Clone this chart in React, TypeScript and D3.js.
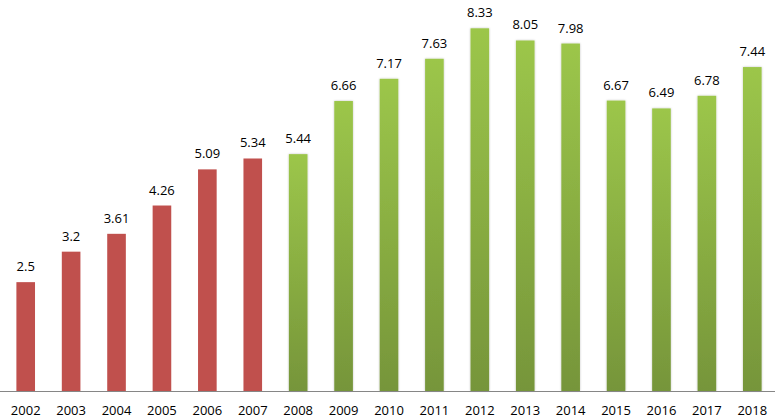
import React from "react";
import * as d3 from "d3";

const years = ["2002","2003","2004","2005","2006","2007","2008","2009","2010","2011","2012","2013","2014","2015","2016","2017","2018"];
const values = [2.5, 3.2, 3.61, 4.26, 5.09, 5.34, 5.44, 6.66, 7.17, 7.63, 8.33, 8.05, 7.98, 6.67, 6.49, 6.78, 7.44];
const redYears = ["2002","2003","2004","2005","2006","2007"];

const W = 778;
const H = 420;
const baseY = 391;

export default function App() {
  const x = d3.scaleBand<string>().domain(years).range([3, 775]).paddingInner(0.59).paddingOuter(0.295);
  const y = d3.scaleLinear().domain([0, 8.33]).range([baseY, 28.3]);
  const font = "'Open Sans', 'Noto Sans', sans-serif";
  return (
    <svg width={W} height={H} style={{ position: "absolute", left: 0, top: 0 }}>
      <defs>
        <linearGradient id="green" x1="0" y1="0" x2="0" y2="1">
          <stop offset="0%" stopColor="#9cc64a" />
          <stop offset="100%" stopColor="#76953a" />
        </linearGradient>
        <filter id="shadow" x="-30%" y="-5%" width="160%" height="110%">
          <feGaussianBlur in="SourceAlpha" stdDeviation="1.2" />
          <feOffset dx="0" dy="0" result="b" />
          <feComponentTransfer><feFuncA type="linear" slope="0.25" /></feComponentTransfer>
          <feMerge><feMergeNode /><feMergeNode in="SourceGraphic" /></feMerge>
        </filter>
      </defs>
      <rect x={0} y={0} width={W} height={H} fill="#ffffff" />
      {years.map((yr, i) => {
        const v = values[i];
        const isRed = redYears.includes(yr);
        const bx = x(yr)!;
        const bw = x.bandwidth();
        return (
          <g key={yr}>
            <rect
              x={bx}
              y={y(v)}
              width={bw}
              height={baseY - y(v)}
              fill={isRed ? "#c0504d" : "url(#green)"}
              filter={isRed ? undefined : "url(#shadow)"}
            />
            <text
              x={bx + bw / 2}
              y={y(v) - 11}
              textAnchor="middle"
              fontSize={13}
              fontFamily={font}
              fill="#000"
            >
              {String(v)}
            </text>
            <text
              x={bx + bw / 2}
              y={415}
              textAnchor="middle"
              fontSize={13}
              fontFamily={font}
              fill="#000"
            >
              {yr}
            </text>
          </g>
        );
      })}
      <line x1={0} x2={775} y1={baseY + 0.5} y2={baseY + 0.5} stroke="#868686" strokeWidth={1} />
    </svg>
  );
}
